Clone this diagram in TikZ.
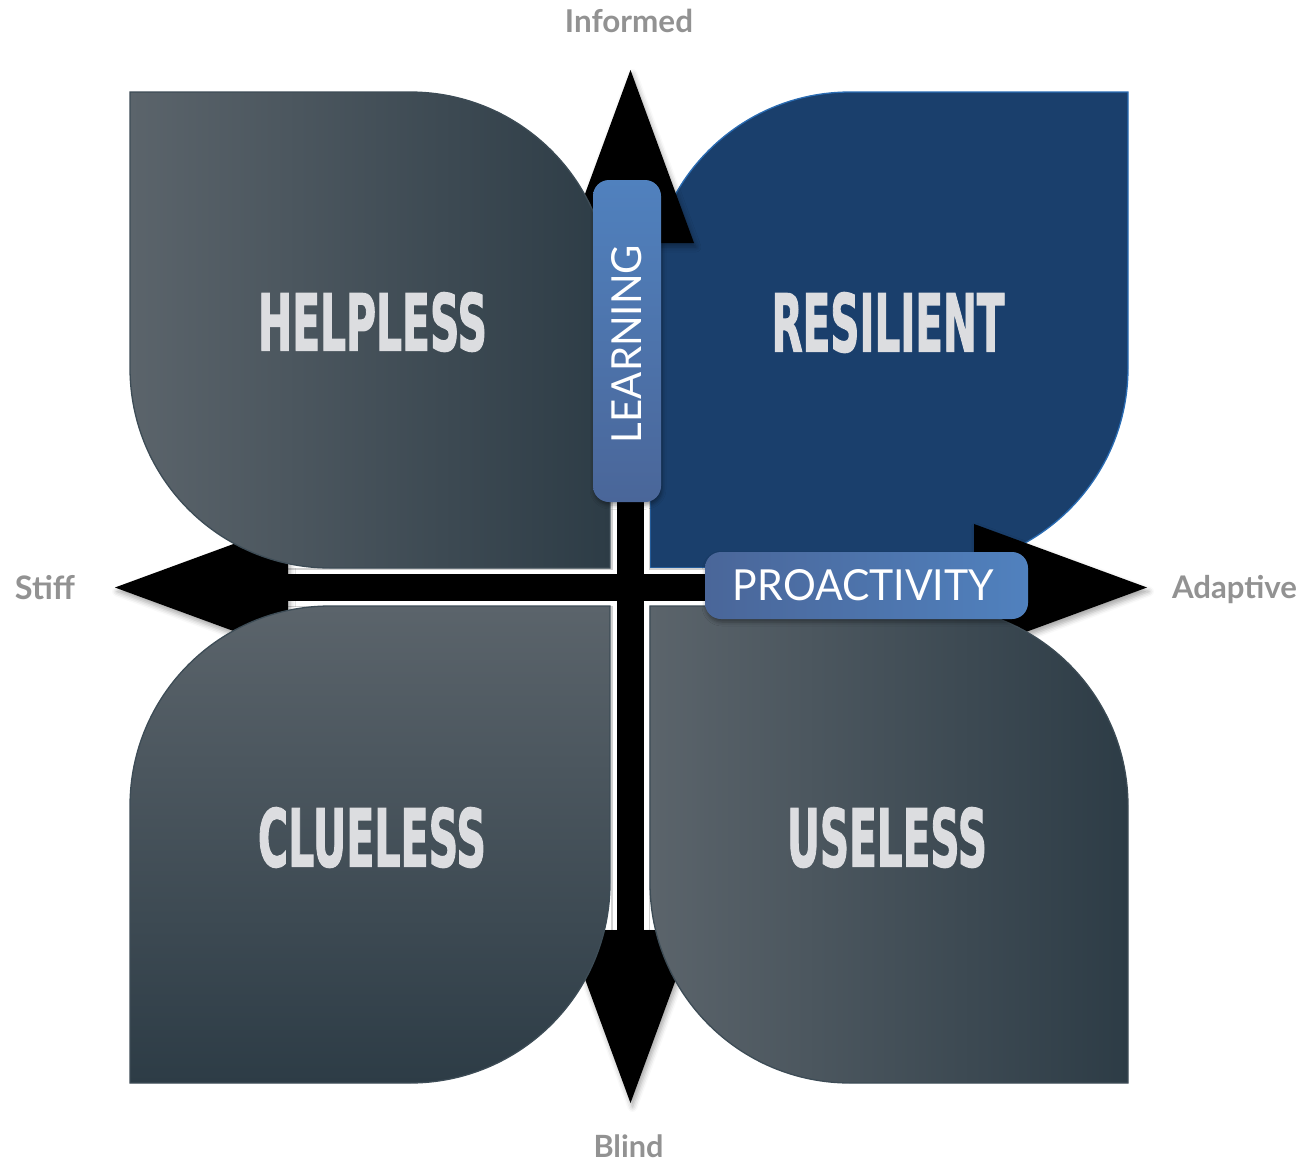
\documentclass[tikz,border=0pt]{standalone}
\usepackage{graphicx}
\usepackage{fontspec}
\setmainfont{Lato}
\newfontfamily\heavyfont[BoldFeatures={FakeBold=2}]{DejaVu Sans}
\usetikzlibrary{shadows.blur}
\definecolor{qlight}{HTML}{5B646B}
\definecolor{qmid}{HTML}{3A4750}
\definecolor{qdark}{HTML}{2D3C46}
\definecolor{qline}{HTML}{3D4C56}
\definecolor{resfill}{HTML}{1A3F6C}
\definecolor{resline}{HTML}{2A6CB3}
\definecolor{boxlight}{HTML}{5081BE}
\definecolor{boxdark}{HTML}{4A6699}
\definecolor{bigtext}{HTML}{DCDDE0}
\definecolor{axistext}{HTML}{929292}
\newcommand\bigword[3]{\resizebox{#1}{#2}{\heavyfont\bfseries #3}}
\begin{document}
\begin{tikzpicture}[x=1pt,y=-1pt,
  quad/.style={draw=qline, line width=1.3pt},
  headtip/.style={fill=black, blur shadow={shadow xshift=2pt, shadow yshift=-4pt, shadow blur radius=5pt, shadow opacity=35}},
  biglbl/.style={inner sep=0pt, text=bigtext},
  lbox/.style={rounded corners=16pt, inner sep=0pt, blur shadow={shadow xshift=1pt, shadow yshift=-3pt, shadow blur radius=4pt, shadow opacity=40}},
  boxtext/.style={inner sep=0pt, text=white},
  axislbl/.style={inner sep=0pt, text=axistext, font=\bfseries}]
\useasboundingbox (0,0) rectangle (1304,1165);

% RESILIENT quadrant (below the arrows)
\path[fill=resfill, draw=resline, line width=1.3pt]
  (1128,92) -- (1128,368) .. controls (1128,478.5) and (1038.5,568) .. (928,568)
  -- (650,568) -- (650,292) .. controls (650,181.5) and (739.5,92) .. (850,92) -- cycle;

% arrow shafts
\coordinate (vtop) at (630.5,243);
\coordinate (vbot) at (630.5,930);
\coordinate (hleft) at (288,587.5);
\coordinate (hright) at (974,587.5);
\draw[gray!35, line width=39pt] (vtop) -- (vbot) (hleft) -- (hright);
\draw[white, line width=36pt] (vtop) -- (vbot) (hleft) -- (hright);
\draw[black, line width=27.5pt] (vtop) -- (vbot) (hleft) -- (hright);

% arrow heads
\path[headtip] (567,243) -- (694,243) -- (630.5,70) -- cycle;
\path[headtip] (567,930) -- (694,930) -- (630.5,1103) -- cycle;
\path[headtip] (288,524) -- (288,651) -- (115,587.5) -- cycle;
\path[headtip] (974,524) -- (974,651) -- (1147,587.5) -- cycle;

% HELPLESS quadrant
\path[quad, left color=qlight, middle color=qmid, right color=qdark]
  (130,92) -- (410,92) .. controls (520.5,92) and (610,181.5) .. (610,292)
  -- (610,568) -- (330,568) .. controls (219.5,568) and (130,478.5) .. (130,368) -- cycle;
% CLUELESS quadrant
\path[quad, top color=qlight, middle color=qmid, bottom color=qdark]
  (610,606) -- (610,883) .. controls (610,993.5) and (520.5,1083) .. (410,1083)
  -- (130,1083) -- (130,806) .. controls (130,695.5) and (219.5,606) .. (330,606) -- cycle;
% USELESS quadrant
\path[quad, left color=qlight, middle color=qmid, right color=qdark]
  (650,606) -- (928,606) .. controls (1038.5,606) and (1128,695.5) .. (1128,806)
  -- (1128,1083) -- (850,1083) .. controls (739.5,1083) and (650,993.5) .. (650,883) -- cycle;

% big labels
\node[biglbl] (helpless) at (372.5,322) {\bigword{229pt}{58pt}{HELPLESS}};
\node[biglbl] (resilient) at (888,322.5) {\bigword{233pt}{59pt}{RESILIENT}};
\node[biglbl] (clueless) at (372,837.5) {\bigword{228pt}{59pt}{CLUELESS}};
\node[biglbl] (useless) at (887,837.5) {\bigword{200pt}{59pt}{USELESS}};

% LEARNING box
\node[lbox, minimum width=68pt, minimum height=322pt, top color=boxlight, bottom color=boxdark] (learnbox) at (627,341) {};
\node[boxtext, rotate=90] (learntext) at (627,344) {\resizebox{198pt}{30pt}{LEARNING}};

% PROACTIVITY box
\node[lbox, minimum width=323pt, minimum height=67pt, left color=boxdark, right color=boxlight] (proabox) at (866.5,585.5) {};
\node[boxtext] (proatext) at (863.5,585.5) {\resizebox{261pt}{31pt}{PROACTIVITY}};

% axis labels
\node[axislbl, anchor=base] (informed) at (629,32) {\resizebox{128pt}{!}{Informed}};
\node[axislbl, anchor=base] (stiff) at (45,599) {\resizebox{60pt}{!}{Stiff}};
\node[axislbl, anchor=base] (adaptive) at (1234.5,598) {\resizebox{125pt}{!}{Adaptive}};
\node[axislbl, anchor=base] (blind) at (628.5,1157) {\resizebox{70pt}{!}{Blind}};
\end{tikzpicture}
\end{document}
